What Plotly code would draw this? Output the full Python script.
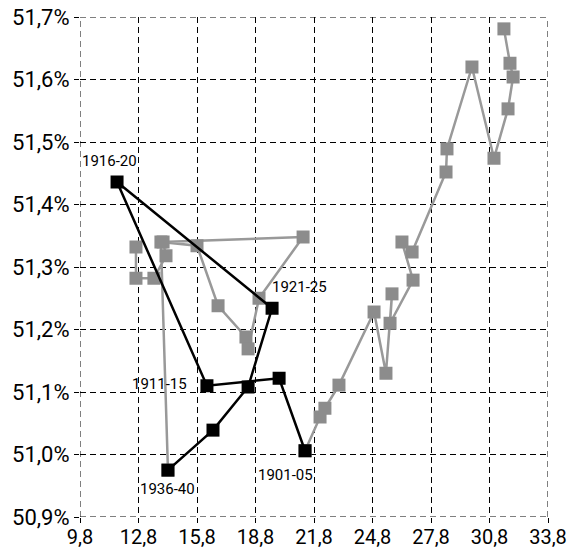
import plotly.graph_objects as go

# Black series (labelled periods)
black_periods = ["1901-05", "1906-10", "1911-15", "1916-20", "1921-25", "1926-30", "1931-35", "1936-40"]
black_x = [21.34, 20.01, 16.31, 11.70, 19.65, 18.42, 16.62, 14.31]
black_y = [51.006, 51.122, 51.110, 51.436, 51.234, 51.108, 51.039, 50.975]

# Gray series before 1901 (continuing from 1901-05)
gray_early_x = [22.11, 22.36, 23.08, 24.88, 25.49, 25.80, 25.70, 26.88, 26.31, 26.83,
                28.57, 28.62, 29.90, 31.03, 31.75, 32.01, 31.85, 31.54]
gray_early_y = [51.060, 51.074, 51.111, 51.228, 51.130, 51.257, 51.210, 51.279, 51.340, 51.324,
                51.452, 51.489, 51.620, 51.474, 51.553, 51.604, 51.626, 51.681]

# Gray series after 1940 (continuing from 1936-40)
gray_late_x = [13.95, 15.80, 16.88, 18.31, 18.42, 18.98, 21.24, 14.06, 14.21, 13.59, 12.67, 12.67]
gray_late_y = [51.340, 51.334, 51.238, 51.188, 51.169, 51.250, 51.348, 51.340, 51.318, 51.282, 51.282, 51.332]

labels = ["1901-05", "1911-15", "1916-20", "1921-25", "1936-40"]

x_ticks = [9.8, 12.8, 15.8, 18.8, 21.8, 24.8, 27.8, 30.8, 33.8]
y_ticks = [50.9, 51.0, 51.1, 51.2, 51.3, 51.4, 51.5, 51.6, 51.7]

GRAY = "#8c8c8c"
GRAY_LINE = "#999999"
DASH = "6px,4px"

fig = go.Figure()

# dashed border lines on the outer ticks (plotly hides gridlines at the range edges)
for xv in (x_ticks[0], x_ticks[-1]):
    fig.add_shape(type="line", xref="x", yref="y", x0=xv, x1=xv, y0=y_ticks[0], y1=y_ticks[-1],
                  line=dict(color="#000000", width=1, dash=DASH), layer="below")
for yv in (y_ticks[0], y_ticks[-1]):
    fig.add_shape(type="line", xref="x", yref="y", x0=x_ticks[0], x1=x_ticks[-1], y0=yv, y1=yv,
                  line=dict(color="#000000", width=1, dash=DASH), layer="below")

fig.add_trace(go.Scatter(
    x=[black_x[0]] + gray_early_x, y=[black_y[0]] + gray_early_y,
    mode="lines+markers",
    line=dict(color=GRAY_LINE, width=2.5),
    marker=dict(symbol="square", size=13, color=GRAY),
    hoverinfo="skip", showlegend=False, cliponaxis=False,
))
fig.add_trace(go.Scatter(
    x=[black_x[-1]] + gray_late_x, y=[black_y[-1]] + gray_late_y,
    mode="lines+markers",
    line=dict(color=GRAY_LINE, width=2.5),
    marker=dict(symbol="square", size=13, color=GRAY),
    hoverinfo="skip", showlegend=False, cliponaxis=False,
))
fig.add_trace(go.Scatter(
    x=black_x, y=black_y,
    mode="lines+markers",
    line=dict(color="#000000", width=2.5),
    marker=dict(symbol="square", size=13, color="#000000"),
    hoverinfo="skip", showlegend=False, cliponaxis=False,
))

# label offsets (pixel shifts) per label
label_pos = {
    "1901-05": dict(xanchor="center", yanchor="top", xshift=-20, yshift=-13),
    "1911-15": dict(xanchor="right", yanchor="middle", xshift=-18, yshift=2),
    "1916-20": dict(xanchor="center", yanchor="bottom", xshift=-8, yshift=10),
    "1921-25": dict(xanchor="left", yanchor="bottom", xshift=-2, yshift=10),
    "1936-40": dict(xanchor="center", yanchor="top", xshift=0, yshift=-8),
}
for lab in labels:
    i = black_periods.index(lab)
    p = label_pos[lab]
    fig.add_annotation(x=black_x[i], y=black_y[i], text=lab, showarrow=False,
                       font=dict(size=15, color="#000000", family="Roboto"),
                       xanchor=p["xanchor"], yanchor=p["yanchor"],
                       xshift=p["xshift"], yshift=p["yshift"])

axis_common = dict(
    showgrid=True, gridcolor="#000000", gridwidth=1, griddash=DASH,
    zeroline=False, showline=False,
    ticks="outside", ticklen=5, tickcolor="#000000", tickwidth=1,
    tickmode="array", ticklabeloverflow="allow",
)

fig.update_xaxes(range=[9.8, 33.8], tickvals=x_ticks, ticklabelstandoff=-3,
                 tickfont=dict(size=20, color="#000000", family="Roboto"),
                 ticktext=[f"{v:.1f}".replace(".", ",") for v in x_ticks], **axis_common)
fig.update_yaxes(range=[50.9, 51.7], tickvals=y_ticks,
                 tickfont=dict(size=22, color="#000000", family="Roboto"),
                 ticktext=[f"{v:.1f}".replace(".", ",") + "%" for v in y_ticks], **axis_common)

fig.update_layout(
    width=573, height=550,
    margin=dict(l=80, r=25, t=17, b=33, autoexpand=False),
    paper_bgcolor="#ffffff", plot_bgcolor="#ffffff",
    font=dict(family="Roboto"),
    hovermode=False,
)

fig.write_html("out.html", config={"displayModeBar": False, "staticPlot": True},
               post_script="document.body.style.margin='0';document.body.style.overflow='hidden';")
